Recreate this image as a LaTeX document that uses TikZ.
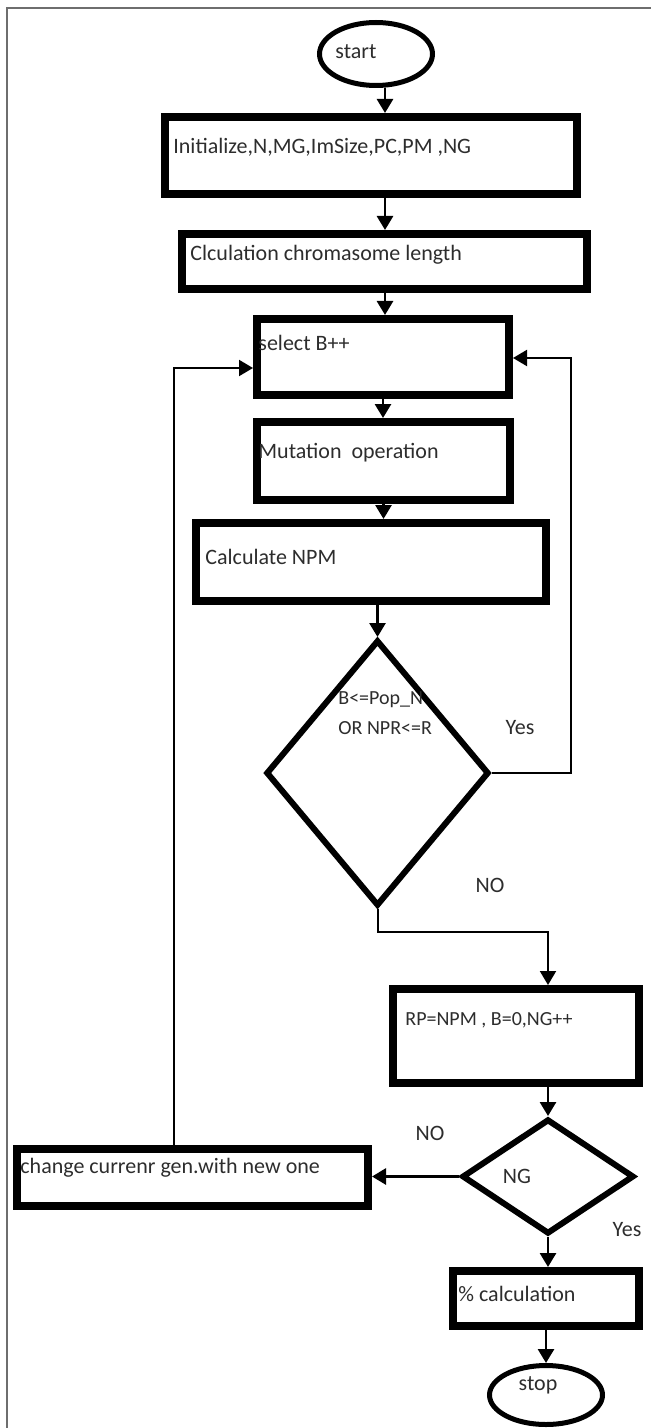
\documentclass[tikz,border=0pt]{standalone}
\usepackage{fontspec}
\setmainfont{Carlito}
\usetikzlibrary{shapes.geometric,arrows.meta,calc}
\definecolor{txtc}{RGB}{45,45,45}
\definecolor{framec}{RGB}{110,110,110}
\begin{document}
\begin{tikzpicture}[x=0.5pt,y=-0.5pt,
  box/.style={draw, rectangle, line width=4pt, inner sep=0pt},
  dia/.style={draw, diamond, line width=3pt, inner sep=0pt},
  oval/.style={draw, ellipse, line width=2.5pt, inner sep=0pt},
  lbl/.style={font=\fontsize{11}{13}\selectfont, text=txtc, inner sep=0pt},
  lbls/.style={font=\fontsize{10}{15}\selectfont, text=txtc, inner sep=0pt},
  arr/.style={-{Triangle[length=7pt,width=8pt]}, line width=1.4pt},
  thinarr/.style={-{Triangle[length=7pt,width=8pt]}, line width=1pt},
]
\useasboundingbox (0,0) rectangle (651,1428);
\draw[framec, line width=0.8pt] (7,1428) -- (7,8) -- (651,8);

% shapes
\node[oval, minimum width=56.5pt, minimum height=31.5pt] (start) at (376,54) {};
\node[box, minimum width=206pt, minimum height=38.5pt] (init) at (371,155.5) {};
\node[box, minimum width=202.5pt, minimum height=27.5pt] (calc) at (384.5,261.5) {};
\node[box, minimum width=126pt, minimum height=38pt] (select) at (383,357) {};
\node[box, minimum width=126.5pt, minimum height=39pt] (mut) at (383.5,461) {};
\node[box, minimum width=175pt, minimum height=39pt] (npm) at (371,562) {};
\node[dia, minimum width=111.5pt, minimum height=133pt] (d1) at (377.5,773) {};
\node[box, minimum width=123pt, minimum height=47pt] (rp) at (516,1036) {};
\node[dia, minimum width=86pt, minimum height=57.5pt] (ng) at (548,1176.5) {};
\node[box, minimum width=175.5pt, minimum height=28.5pt] (change) at (192.5,1177.5) {};
\node[box, minimum width=93pt, minimum height=27.5pt] (pct) at (546,1298.5) {};
\node[oval, minimum width=56.5pt, minimum height=29.5pt] (stop) at (546,1395) {};

% texts
\node[lbl, anchor=west] (startT) at (335,52) {start};
\node[lbl, anchor=west] (initT) at (173,147) {Initialize,N,MG,ImSize,PC,PM ,NG};
\node[lbl, anchor=west] (calcT) at (190,255) {Clculation chromasome length};
\node[lbl, anchor=west] (selectT) at (258,343) {select B++};
\node[lbl, anchor=west] (mutT) at (258,453) {Mutation\ \ operation};
\node[lbl, anchor=west] (npmT) at (205,557) {Calculate NPM};
\node[lbls, anchor=west, align=left] (d1T) at (338,713) {B<=Pop\_N\\OR NPR<=R};
\node[lbl] (yes1) at (520,728) {Yes};
\node[lbl] (no1) at (490,885) {NO};
\node[lbls, anchor=west] (rpT) at (405,1020) {RP=NPM , B=0,NG++};
\node[lbl] (no2) at (430,1133) {NO};
\node[lbl] (ngT) at (517,1176) {NG};
\node[lbl, anchor=west] (changeT) at (20,1168) {change currenr gen.with new one};
\node[lbl] (yes2) at (627,1230) {Yes};
\node[lbl, anchor=west] (pctT) at (458,1294) {\% calculation};
\node[lbl] (stopT) at (538,1385) {stop};

% connectors
\coordinate (ax) at (385,0);
\draw[arr] (ax |- start.south) -- (ax |- init.north);
\draw[arr] (ax |- init.south) -- (ax |- calc.north);
\draw[arr] (ax |- calc.south) -- (ax |- select.north);
\draw[arr] (select.south) -- (select.south |- mut.north);
\draw[arr] (mut.south) -- (mut.south |- npm.north);
\draw[arr] (d1.north |- npm.south) -- (d1.north);
\coordinate (rl) at (571,358);
\draw[thinarr] (d1.east) -| (rl) -- (rl -| select.east);
\coordinate (bd) at (548,932);
\draw[thinarr] (d1.south) |- (bd) -- (bd |- rp.north);
\draw[arr] (ng.north |- rp.south) -- (ng.north);
\draw[arr] (ng.west) -- (ng.west -| change.east);
\coordinate (ll) at (174,368);
\draw[thinarr] (ll |- change.north) -- (ll) -- (ll -| select.west);
\draw[arr] (ng.south) -- (ng.south |- pct.north);
\draw[arr] (stop.north |- pct.south) -- (stop.north);
\end{tikzpicture}
\end{document}
